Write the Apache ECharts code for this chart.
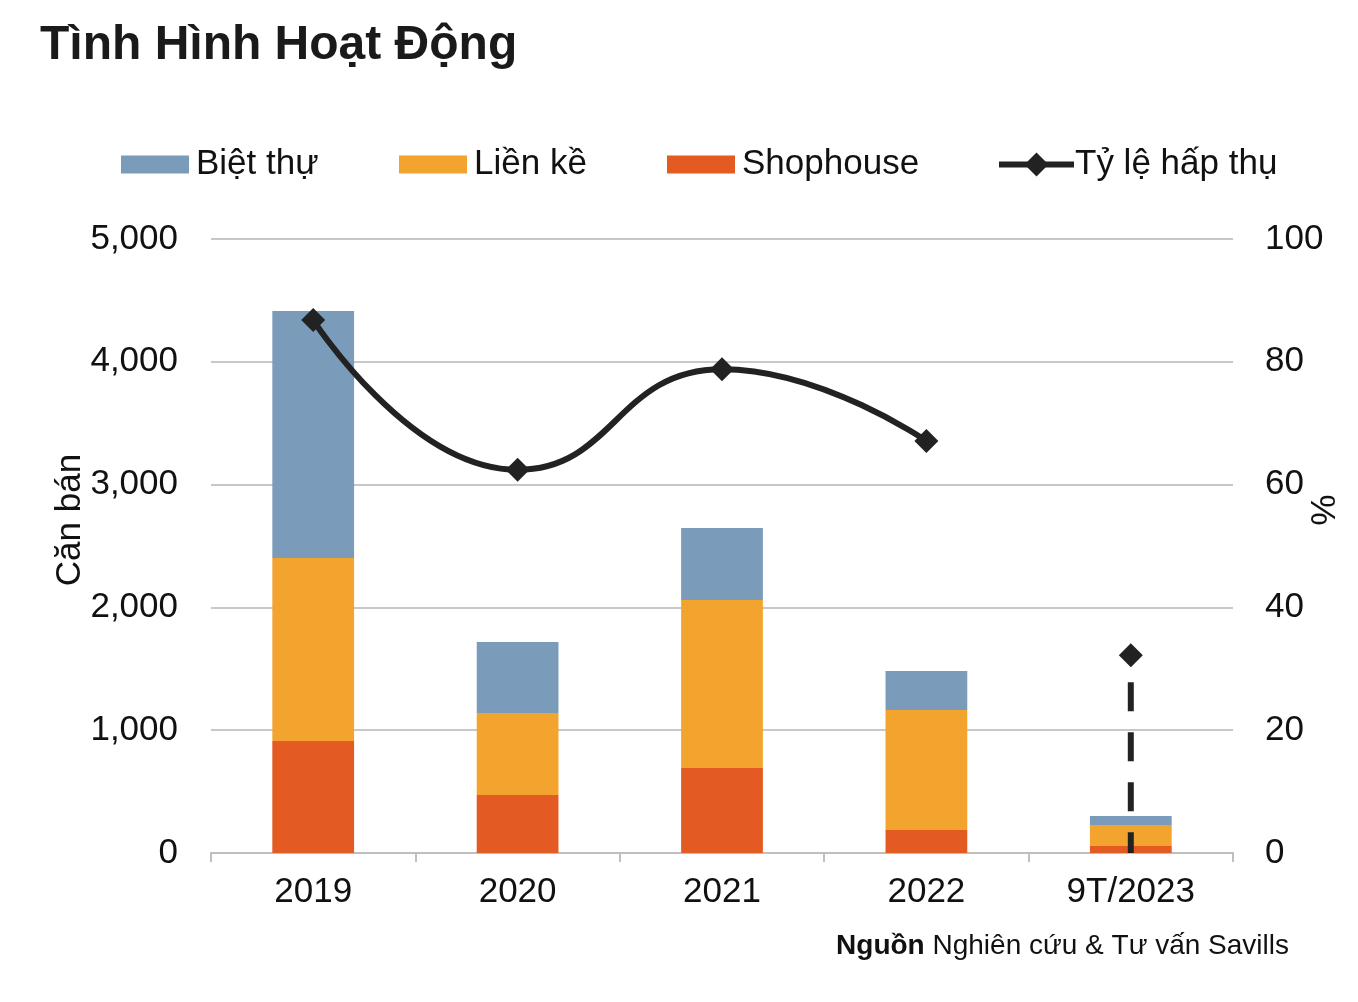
<!DOCTYPE html>
<html>
<head>
<meta charset="utf-8">
<script src="https://cdn.jsdelivr.net/npm/echarts@6/dist/echarts.min.js"></script>
<style>
  html, body { margin: 0; padding: 0; background: #fff; }
  #chart { width: 1358px; height: 1002px; }
</style>
</head>
<body>
<div id="chart"></div>
<script>
// số liệu
const years = ['2019', '2020', '2021', '2022', '9T/2023']
const bietThu = [2012, 578, 587, 318, 73]
const lienKe = [1490, 668, 1368, 977, 171]
const shophouse = [912, 472, 692, 187, 57]
const tyLeHapThu = [86.8, 62.4, 78.8, 67.1, null]
const tyLe2023 = 32.2
const leftTicks = [0, 5000, 1000]
const rightTicks = [0, 100, 20]

const font = '"Liberation Sans", Arial, sans-serif'
const chart = echarts.init(document.getElementById('chart'))

const legendBase = {
  top: 147,
  padding: 0,
  icon: 'rect',
  itemWidth: 68,
  itemHeight: 18,
  itemGap: 0,
  textStyle: { fontFamily: font, fontSize: 35, color: '#111', padding: [4, 0, 0, 2] }
}

chart.setOption({
  animation: false,
  textStyle: { fontFamily: font },
  graphic: [
    {
      type: 'text', left: 40, top: 22,
      style: { text: 'Tình Hình Hoạt Động', font: 'bold 48px ' + font, fill: '#1a1a1a' }
    },
    {
      type: 'text', right: 69, top: 932,
      style: {
        text: '{b|Nguồn} Nghiên cứu & Tư vấn Savills',
        fill: '#111',
        rich: {
          b: { fontFamily: font, fontSize: 28, fontWeight: 'bold', fill: '#111' }
        },
        font: '28px ' + font
      }
    }
  ],
  legend: [
    Object.assign({}, legendBase, { left: 121, data: ['Biệt thự'] }),
    Object.assign({}, legendBase, { left: 399, data: ['Liền kề'] }),
    Object.assign({}, legendBase, { left: 667, data: ['Shophouse'] }),
    Object.assign({}, legendBase, {
      left: 996, top: 147, icon: null, itemWidth: 75, itemHeight: 30,
      lineStyle: { width: 6, color: '#222' },
      textStyle: { fontFamily: font, fontSize: 35, color: '#111', padding: [4, 0, 0, -4] },
      data: ['Tỷ lệ hấp thụ']
    })
  ],
  grid: { left: 211, right: 125, top: 239, bottom: 149, outerBoundsMode: 'none' },
  xAxis: {
    type: 'category',
    data: years,
    axisLine: { lineStyle: { color: '#BFBFBF', width: 2 } },
    axisTick: { show: true, inside: false, length: 9, lineStyle: { color: '#BFBFBF', width: 2 } },
    axisLabel: { color: '#111', fontSize: 35, margin: 22 }
  },
  yAxis: [
    {
      type: 'value',
      min: leftTicks[0], max: leftTicks[1], interval: leftTicks[2],
      name: 'Căn bán',
      nameLocation: 'middle',
      nameGap: 123,
      nameMoveOverlap: false,
      nameRotate: 90,
      nameTextStyle: { color: '#111', fontSize: 35, padding: [0, 0, 0, 52] },
      axisLine: { show: false },
      axisTick: { show: false },
      axisLabel: {
        color: '#111', fontSize: 35, margin: 33,
        formatter: v => v.toLocaleString('en-US')
      },
      splitLine: { lineStyle: { color: '#C8C8C8', width: 2 } }
    },
    {
      type: 'value',
      min: rightTicks[0], max: rightTicks[1], interval: rightTicks[2],
      name: '%',
      nameLocation: 'middle',
      nameGap: 70,
      nameMoveOverlap: false,
      nameRotate: -90,
      nameTextStyle: { color: '#111', fontSize: 35, padding: [0, 72, 0, 0] },
      axisLine: { show: false },
      axisTick: { show: false },
      axisLabel: { color: '#111', fontSize: 35, margin: 32 },
      splitLine: { show: false }
    }
  ],
  series: [
    {
      name: 'Shophouse', type: 'bar', stack: 'total', barWidth: '40%',
      itemStyle: { color: '#E35A22' }, data: shophouse
    },
    {
      name: 'Liền kề', type: 'bar', stack: 'total',
      itemStyle: { color: '#F2A42E' }, data: lienKe
    },
    {
      name: 'Biệt thự', type: 'bar', stack: 'total',
      itemStyle: { color: '#7A9CBA' }, data: bietThu
    },
    {
      name: 'Tỷ lệ hấp thụ', type: 'line', yAxisIndex: 1,
      smooth: 0.5,
      symbol: 'diamond', symbolSize: 24,
      lineStyle: { color: '#222', width: 6 },
      itemStyle: { color: '#222' },
      data: tyLeHapThu, z: 5
    },
    {
      name: 'Tỷ lệ 2023', type: 'line', yAxisIndex: 1,
      symbol: 'none',
      lineStyle: { color: '#222', width: 6, type: [29, 21], dashOffset: 23 },
      itemStyle: { color: '#222' },
      data: [
        { value: [years[4], tyLe2023], symbol: 'diamond', symbolSize: 24 },
        [years[4], 0]
      ],
      z: 5
    }
  ]
})
</script>
</body>
</html>
